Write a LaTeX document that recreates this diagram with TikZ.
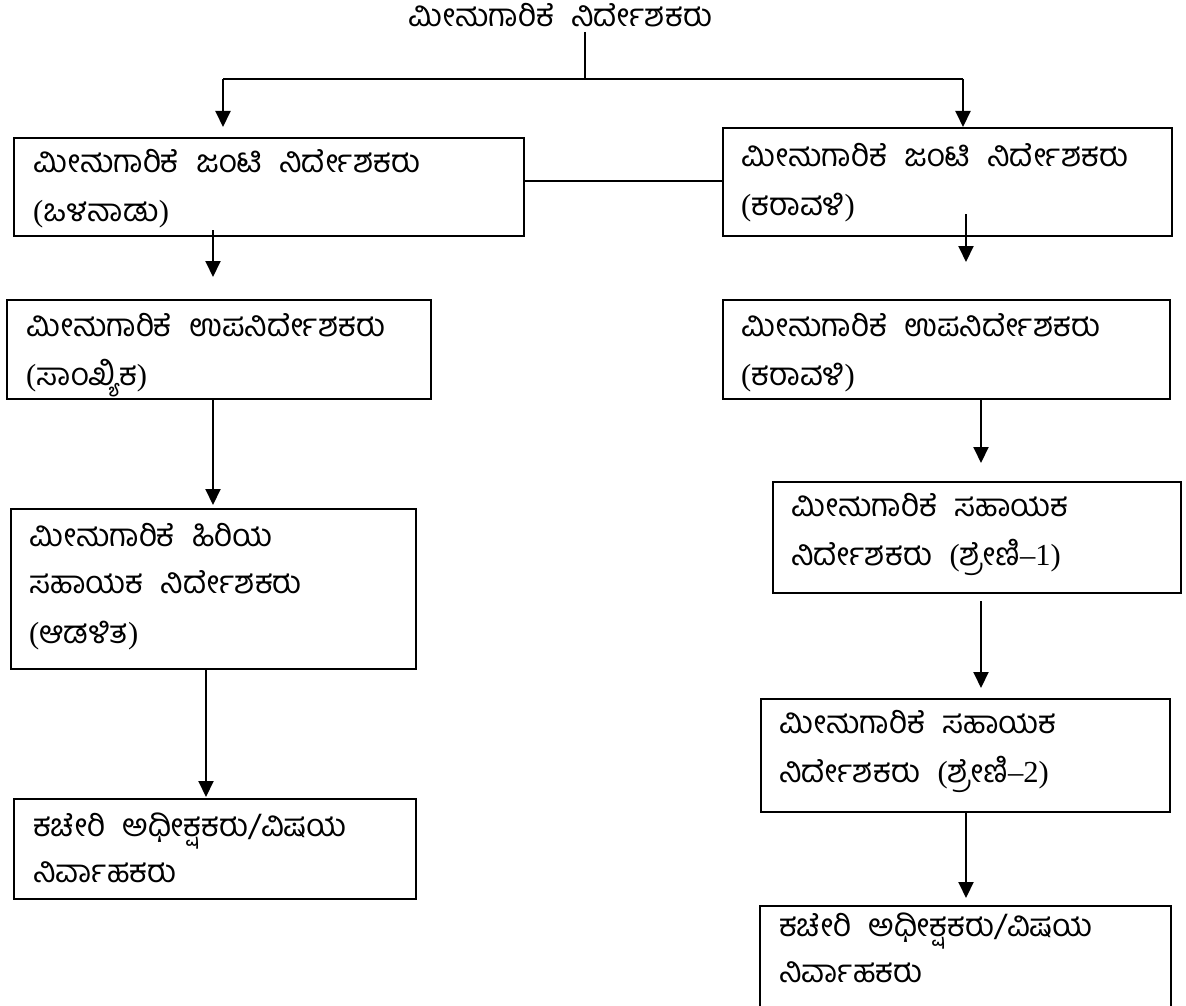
\documentclass[tikz,border=0pt]{standalone}
\usepackage{fontspec}
\setmainfont{Liberation Serif}
\newfontfamily\kn[Script=Kannada]{Hind Mysuru}
\newfontfamily\lat[Scale=0.97]{Liberation Serif}
\usetikzlibrary{arrows.meta}
\newcommand{\ws}{\hspace{0.55em}}
\newcommand{\lp}{{\lat(}}
\newcommand{\rp}{{\lat)}}
\tikzset{
  box/.style={draw=black, line width=1.8pt, anchor=north west, inner sep=0pt},
  lbl/.style={anchor=base west, inner sep=0pt,
    font=\kn\fontsize{31.5}{36}\selectfont},
  ttl/.style={anchor=base west, inner sep=0pt, font=\kn\fontsize{31.5}{36}\selectfont},
  arr/.style={line width=2pt, -{Triangle[width=15pt,length=16pt]}},
  ln/.style={line width=1.6pt}
}
\begin{document}
\begin{tikzpicture}[x=1pt,y=-1pt]
\useasboundingbox (0,0) rectangle (1186,1006);
% title
\node[ttl] (ttl) at (408,27) {ಮೀನುಗಾರಿಕೆ\ws ನಿರ್ದೇಶಕರು};
% boxes
\node[box, minimum width=510pt, minimum height=98pt]  (a1) at (13,137) {};
\node[box, minimum width=449pt, minimum height=108pt] (b1) at (722,127) {};
\node[box, minimum width=424pt, minimum height=99pt]  (a2) at (6,299) {};
\node[box, minimum width=447pt, minimum height=99pt]  (b2) at (722,299) {};
\node[box, minimum width=405pt, minimum height=160pt] (a3) at (10,508) {};
\node[box, minimum width=408pt, minimum height=111pt] (b3) at (772,481) {};
\node[box, minimum width=402pt, minimum height=100pt] (a4) at (13,798) {};
\node[box, minimum width=409pt, minimum height=113pt] (b4) at (760,698) {};
% B5 box runs off the bottom edge
\coordinate (b5bl) at (760,1012);
\coordinate (b5tl) at (760,906);
\coordinate (b5tr) at (1171,906);
\coordinate (b5br) at (1171,1012);
\draw[line width=1.8pt] (b5bl) -- (b5tl) -- (b5tr) -- (b5br);
% labels
\node[lbl] (ta1a) at (33,172) {ಮೀನುಗಾರಿಕೆ\ws ಜಂಟಿ\ws ನಿರ್ದೇಶಕರು};
\node[lbl] (ta1b) at (33,221) {\lp ಒಳನಾಡು\rp};
\node[lbl] (tb1a) at (741,166) {ಮೀನುಗಾರಿಕೆ\ws ಜಂಟಿ\ws ನಿರ್ದೇಶಕರು};
\node[lbl] (tb1b) at (741,215) {\lp ಕರಾವಳಿ\rp};
\node[lbl] (ta2a) at (26,336) {ಮೀನುಗಾರಿಕೆ\ws ಉಪನಿರ್ದೇಶಕರು};
\node[lbl] (ta2b) at (26,385) {\lp ಸಾಂಖ್ಯಿಕ\rp};
\node[lbl] (tb2a) at (741,336) {ಮೀನುಗಾರಿಕೆ\ws ಉಪನಿರ್ದೇಶಕರು};
\node[lbl] (tb2b) at (741,385) {\lp ಕರಾವಳಿ\rp};
\node[lbl] (ta3a) at (29,546) {ಮೀನುಗಾರಿಕೆ\ws ಹಿರಿಯ};
\node[lbl] (ta3b) at (29,593) {ಸಹಾಯಕ\ws ನಿರ್ದೇಶಕರು};
\node[lbl] (ta3c) at (29,643) {\lp ಆಡಳಿತ\rp};
\node[lbl] (tb3a) at (791,516) {ಮೀನುಗಾರಿಕೆ\ws ಸಹಾಯಕ};
\node[lbl] (tb3b) at (791,565) {ನಿರ್ದೇಶಕರು\ws \lp ಶ್ರೇಣಿ{\lat –1)}};
\node[lbl] (ta4a) at (33,836) {ಕಚೇರಿ\ws ಅಧೀಕ್ಷಕರು/ವಿಷಯ};
\node[lbl] (ta4b) at (33,882) {ನಿರ್ವಾಹಕರು};
\node[lbl] (tb4a) at (779,733) {ಮೀನುಗಾರಿಕೆ\ws ಸಹಾಯಕ};
\node[lbl] (tb4b) at (779,782) {ನಿರ್ದೇಶಕರು\ws \lp ಶ್ರೇಣಿ{\lat –2)}};
\node[lbl] (tb5a) at (779,936) {ಕಚೇರಿ\ws ಅಧೀಕ್ಷಕರು/ವಿಷಯ};
\node[lbl] (tb5b) at (779,982) {ನಿರ್ವಾಹಕರು};
% connectors
\coordinate (tl) at (585,32);
\coordinate (tj) at (585,79);
\coordinate (hl) at (223,79);
\coordinate (hr) at (963,79);
\coordinate (tipa1) at (223,127);
\draw[ln] (tl) -- (tj);
\draw[ln] (hl) -- (hr);
\draw[arr] (hl) -- (tipa1);
\draw[arr] (hr) -- (hr |- b1.north);
\draw[ln] (a1.east |- 0,181) -- (b1.west |- 0,181);
\coordinate (sa1) at (213,230); \coordinate (ea1) at (213,277);
\draw[arr] (sa1) -- (ea1);
\coordinate (sa2) at (213,398); \coordinate (ea2) at (213,505);
\draw[arr] (sa2) -- (ea2);
\coordinate (sa3) at (206,668); \coordinate (ea3) at (206,797);
\draw[arr] (sa3) -- (ea3);
\coordinate (sb1) at (966,214); \coordinate (eb1) at (966,262);
\draw[arr] (sb1) -- (eb1);
\coordinate (sb2) at (981,398); \coordinate (eb2) at (981,463);
\draw[arr] (sb2) -- (eb2);
\coordinate (sb3) at (981,601); \coordinate (eb3) at (981,688);
\draw[arr] (sb3) -- (eb3);
\coordinate (sb4) at (966,811); \coordinate (eb4) at (966,898);
\draw[arr] (sb4) -- (eb4);
\end{tikzpicture}
\end{document}
